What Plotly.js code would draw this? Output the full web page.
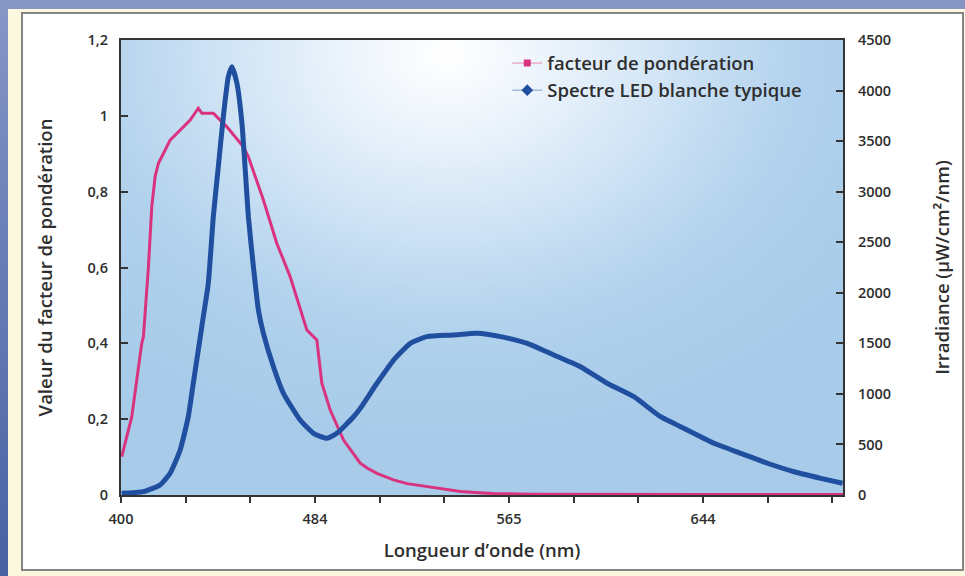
<!DOCTYPE html>
<html>
<head>
<meta charset="utf-8">
<script src="https://cdn.plot.ly/plotly-3.0.1.min.js"></script>
<style>
  html, body { margin: 0; padding: 0; }
  #stage { position: relative; width: 965px; height: 576px; overflow: hidden;
           background: linear-gradient(180deg, #8896c6 0%, #6b80b8 40%, #4862a2 100%); }
  #cream { position: absolute; left: 8px; top: 9px; width: 957px; height: 567px; background: #fcf7df; }
  #panel { position: absolute; left: 21px; top: 12px; width: 939px; height: 555px;
           background: #ffffff; border: 2px solid #858585; }
  #plotbg { position: absolute; left: 121px; top: 40px; width: 722px; height: 455px;
            background: radial-gradient(ellipse 70% 85% at 45% 3%, #ffffff 0%, #eef5fc 18%, #cfe3f5 45%, #b2d2ed 70%, #a7cbe9 100%); }
  #chart { position: absolute; left: 0; top: 0; width: 965px; height: 576px; }
</style>
</head>
<body>
<div id="stage">
  <div id="cream"></div>
  <div id="panel"></div>
  <div id="plotbg"></div>
  <div id="chart"></div>
</div>
<script>
// Weighting factor (left axis)
const weightX = [400.3, 404.5, 408.7, 409.4, 411.5, 412.9, 414.3, 415.7, 420.6, 424.8, 429.0, 432.4, 433.9, 438.7,
                 444.4, 451.3, 453.4, 459.7, 465.3, 470.9, 475.1, 477.9, 482.1, 484.2, 487.7, 493.3, 500.3, 503.5,
                 507.3, 514.2, 520.0, 528.3, 535.0, 542.3, 550.0, 556.1, 571.7, 601.0, 643.0, 702.7];
const weightY = [0.101, 0.206, 0.400, 0.417, 0.602, 0.760, 0.840, 0.875, 0.936, 0.963, 0.989, 1.020, 1.007, 1.007,
                 0.971, 0.918, 0.892, 0.778, 0.664, 0.576, 0.488, 0.435, 0.409, 0.295, 0.224, 0.145, 0.084, 0.070,
                 0.057, 0.040, 0.030, 0.022, 0.015, 0.009, 0.006, 0.004, 0.002, 0.001, 0.001, 0.001];

// Typical white LED spectrum (right axis, µW/cm²/nm)
const ledX = [400.3, 409.4, 416.4, 420.6, 424.8, 428.2, 430.3, 432.4, 434.5, 436.6, 438.7, 440.8, 442.9, 445.0,
              446.5, 448.6, 450.7, 452.0, 453.4, 455.5, 457.6, 459.7, 463.9, 468.1, 475.1, 480.7, 486.3, 490.5,
              497.5, 500.3, 507.3, 514.3, 521.3, 528.3, 539.5, 549.3, 559.1, 570.3, 581.4, 592.6, 603.8, 615.0,
              626.2, 637.4, 648.6, 659.8, 671.0, 682.2, 693.4, 702.5];
const ledY = [17, 33, 99, 215, 445, 774, 1105, 1434, 1763, 2094, 2752, 3247, 3741, 4137,
              4236, 4072, 3676, 3247, 2752, 2258, 1830, 1599, 1269, 1006, 742, 610, 561, 610,
              774, 857, 1105, 1335, 1500, 1566, 1582, 1599, 1566, 1500, 1385, 1269, 1105, 972,
              774, 643, 511, 412, 314, 230, 165, 116];

const xTickLabels = ["400", "484", "565", "644"];
const yLeftTicks = [0, 0.2, 0.4, 0.6, 0.8, 1, 1.2];
const yLeftTickText = ["0", "0,2", "0,4", "0,6", "0,8", "1", "1,2"];
const yRightTicks = [0, 500, 1000, 1500, 2000, 2500, 3000, 3500, 4000, 4500];

const seriesNames = ["facteur de pondération", "Spectre LED blanche typique"];
const pink = "#d9327f";
const blue = "#1f4f9e";

// uniform tick marks, labelled every third one
const tickStep = (644 - 400) / 9;
const xTickVals = [], xTickText = [];
for (let i = 0; i < 12; i++) {
  xTickVals.push(400 + i * tickStep);
  xTickText.push(i % 3 === 0 ? xTickLabels[i / 3] : "");
}

const font = { family: "Open Sans, sans-serif", color: "#2e2e2e", weight: 600 };
const f = s => Object.assign({ size: s }, font);

const traces = [
  { x: weightX, y: weightY, type: "scatter", mode: "lines", yaxis: "y",
    line: { color: pink, width: 3 }, showlegend: false, hoverinfo: "skip" },
  { x: ledX, y: ledY, type: "scatter", mode: "lines", yaxis: "y2",
    line: { color: blue, width: 5, shape: "spline", smoothing: 0.5 }, showlegend: false, hoverinfo: "skip" },
  { x: [null], y: [null], type: "scatter", mode: "lines+markers", name: seriesNames[0],
    line: { color: "#e58ab3", width: 1 }, marker: { symbol: "square", size: 7, color: pink } },
  { x: [null], y: [null], type: "scatter", mode: "lines+markers", name: seriesNames[1], yaxis: "y2",
    line: { color: "#7d98c8", width: 1 }, marker: { symbol: "diamond", size: 9, color: blue } }
];

const layout = {
  width: 965, height: 576,
  margin: { l: 121, r: 122, t: 40, b: 81, pad: 0 },
  paper_bgcolor: "rgba(0,0,0,0)",
  plot_bgcolor: "rgba(0,0,0,0)",
  font: f(14),
  showlegend: true,
  legend: { x: 0.535, y: 0.99, xanchor: "left", yanchor: "top", bgcolor: "rgba(0,0,0,0)",
            font: f(18.5), tracegroupgap: 0, itemwidth: 30 },
  xaxis: {
    range: [400, 400 + 722 * tickStep / 64.67],
    tickvals: xTickVals, ticktext: xTickText,
    showgrid: false, zeroline: false,
    showline: true, linecolor: "#333", linewidth: 2, mirror: true,
    ticks: "outside", ticklen: 6, tickwidth: 2, tickcolor: "#333",
    tickfont: f(14.5), ticklabelstandoff: 4,
    title: { text: "Longueur d’onde (nm)", font: f(18.5), standoff: 17 }
  },
  yaxis: {
    range: [0, 1.2], tickvals: yLeftTicks, ticktext: yLeftTickText,
    showgrid: false, zeroline: false,
    showline: true, linecolor: "#333", linewidth: 2,
    ticks: "inside", ticklen: 7, tickwidth: 2, tickcolor: "#333",
    tickfont: f(14.5), ticklabelstandoff: 8,
    title: { text: "Valeur du facteur de pondération", font: f(18.5), standoff: 30 }
  },
  yaxis2: {
    overlaying: "y", side: "right",
    range: [0, 4500], tickvals: yRightTicks,
    showgrid: false, zeroline: false,
    showline: true, linecolor: "#333", linewidth: 2,
    ticks: "inside", ticklen: 7, tickwidth: 2, tickcolor: "#333",
    tickfont: f(14.5), ticklabelstandoff: 10,
    title: { text: "Irradiance (µW/cm²/nm)", font: f(18.5), standoff: 46 }
  }
};

Plotly.newPlot("chart", traces, layout, { displayModeBar: false, staticPlot: true });
</script>
</body>
</html>
